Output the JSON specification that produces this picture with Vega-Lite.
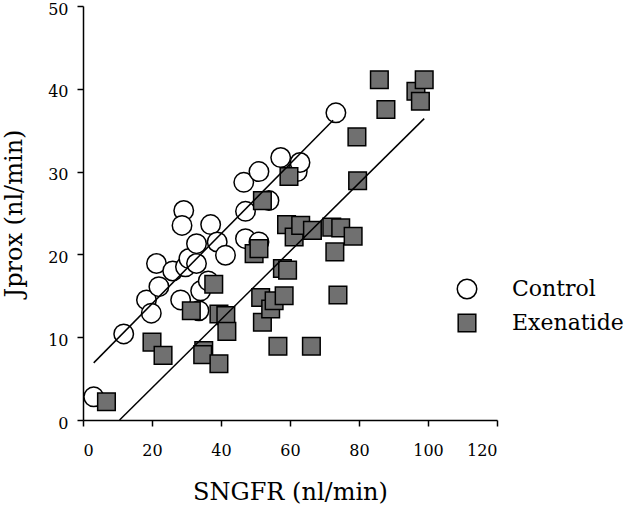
{
  "$schema": "https://vega.github.io/schema/vega-lite/v6.json",
  "autosize": {"type": "none"},
  "width": 414,
  "height": 414,
  "padding": {"left": 83, "top": 6, "right": 130, "bottom": 87},
  "background": "white",
  "config": {
    "view": {"stroke": null},
    "font": "DejaVu Serif",
    "axis": {
      "grid": false,
      "domainColor": "black",
      "domainWidth": 1.5,
      "tickColor": "black",
      "tickWidth": 1.5,
      "tickSize": 6,
      "labelFont": "DejaVu Serif",
      "labelFontSize": 16,
      "labelColor": "black",
      "titleFont": "DejaVu Serif",
      "titleFontSize": 24,
      "titleFontWeight": "normal",
      "titleColor": "black"
    },
    "legend": {
      "labelFont": "DejaVu Serif",
      "labelFontSize": 22,
      "labelColor": "black",
      "title": null
    }
  },
  "datasets": {
    "points": [
      {"SNGFR": 3.1, "Jprox": 2.8, "group": "Control"},
      {"SNGFR": 11.8, "Jprox": 10.4, "group": "Control"},
      {"SNGFR": 18.4, "Jprox": 14.5, "group": "Control"},
      {"SNGFR": 19.8, "Jprox": 12.9, "group": "Control"},
      {"SNGFR": 21.3, "Jprox": 18.9, "group": "Control"},
      {"SNGFR": 22.0, "Jprox": 16.1, "group": "Control"},
      {"SNGFR": 26.0, "Jprox": 18.0, "group": "Control"},
      {"SNGFR": 28.3, "Jprox": 14.5, "group": "Control"},
      {"SNGFR": 29.2, "Jprox": 25.3, "group": "Control"},
      {"SNGFR": 28.7, "Jprox": 23.5, "group": "Control"},
      {"SNGFR": 29.7, "Jprox": 18.5, "group": "Control"},
      {"SNGFR": 30.7, "Jprox": 19.5, "group": "Control"},
      {"SNGFR": 32.9, "Jprox": 18.9, "group": "Control"},
      {"SNGFR": 32.9, "Jprox": 21.3, "group": "Control"},
      {"SNGFR": 33.6, "Jprox": 13.2, "group": "Control"},
      {"SNGFR": 34.1, "Jprox": 15.6, "group": "Control"},
      {"SNGFR": 36.3, "Jprox": 16.8, "group": "Control"},
      {"SNGFR": 37.0, "Jprox": 23.6, "group": "Control"},
      {"SNGFR": 38.9, "Jprox": 21.5, "group": "Control"},
      {"SNGFR": 41.3, "Jprox": 19.9, "group": "Control"},
      {"SNGFR": 46.6, "Jprox": 28.7, "group": "Control"},
      {"SNGFR": 47.1, "Jprox": 25.2, "group": "Control"},
      {"SNGFR": 47.1, "Jprox": 21.9, "group": "Control"},
      {"SNGFR": 51.0, "Jprox": 21.5, "group": "Control"},
      {"SNGFR": 51.0, "Jprox": 30.0, "group": "Control"},
      {"SNGFR": 53.9, "Jprox": 26.5, "group": "Control"},
      {"SNGFR": 57.3, "Jprox": 31.7, "group": "Control"},
      {"SNGFR": 62.1, "Jprox": 30.0, "group": "Control"},
      {"SNGFR": 62.9, "Jprox": 31.1, "group": "Control"},
      {"SNGFR": 73.3, "Jprox": 37.1, "group": "Control"},
      {"SNGFR": 6.8, "Jprox": 2.2, "group": "Exenatide"},
      {"SNGFR": 20.0, "Jprox": 9.4, "group": "Exenatide"},
      {"SNGFR": 23.2, "Jprox": 7.8, "group": "Exenatide"},
      {"SNGFR": 31.4, "Jprox": 13.2, "group": "Exenatide"},
      {"SNGFR": 35.0, "Jprox": 8.4, "group": "Exenatide"},
      {"SNGFR": 34.7, "Jprox": 7.9, "group": "Exenatide"},
      {"SNGFR": 37.9, "Jprox": 16.4, "group": "Exenatide"},
      {"SNGFR": 39.4, "Jprox": 6.8, "group": "Exenatide"},
      {"SNGFR": 39.4, "Jprox": 12.8, "group": "Exenatide"},
      {"SNGFR": 41.4, "Jprox": 12.6, "group": "Exenatide"},
      {"SNGFR": 41.7, "Jprox": 10.7, "group": "Exenatide"},
      {"SNGFR": 49.6, "Jprox": 20.1, "group": "Exenatide"},
      {"SNGFR": 51.0, "Jprox": 20.7, "group": "Exenatide"},
      {"SNGFR": 51.5, "Jprox": 14.8, "group": "Exenatide"},
      {"SNGFR": 52.0, "Jprox": 11.8, "group": "Exenatide"},
      {"SNGFR": 52.0, "Jprox": 26.5, "group": "Exenatide"},
      {"SNGFR": 54.4, "Jprox": 13.4, "group": "Exenatide"},
      {"SNGFR": 55.4, "Jprox": 14.4, "group": "Exenatide"},
      {"SNGFR": 56.5, "Jprox": 8.9, "group": "Exenatide"},
      {"SNGFR": 57.8, "Jprox": 18.3, "group": "Exenatide"},
      {"SNGFR": 58.3, "Jprox": 15.0, "group": "Exenatide"},
      {"SNGFR": 59.3, "Jprox": 18.1, "group": "Exenatide"},
      {"SNGFR": 59.0, "Jprox": 23.6, "group": "Exenatide"},
      {"SNGFR": 59.7, "Jprox": 29.4, "group": "Exenatide"},
      {"SNGFR": 61.2, "Jprox": 22.1, "group": "Exenatide"},
      {"SNGFR": 63.1, "Jprox": 23.5, "group": "Exenatide"},
      {"SNGFR": 66.2, "Jprox": 8.9, "group": "Exenatide"},
      {"SNGFR": 66.5, "Jprox": 22.9, "group": "Exenatide"},
      {"SNGFR": 72.1, "Jprox": 23.3, "group": "Exenatide"},
      {"SNGFR": 73.0, "Jprox": 20.3, "group": "Exenatide"},
      {"SNGFR": 73.9, "Jprox": 15.1, "group": "Exenatide"},
      {"SNGFR": 74.7, "Jprox": 23.2, "group": "Exenatide"},
      {"SNGFR": 78.3, "Jprox": 22.2, "group": "Exenatide"},
      {"SNGFR": 79.4, "Jprox": 34.2, "group": "Exenatide"},
      {"SNGFR": 79.6, "Jprox": 28.9, "group": "Exenatide"},
      {"SNGFR": 85.9, "Jprox": 41.1, "group": "Exenatide"},
      {"SNGFR": 87.8, "Jprox": 37.5, "group": "Exenatide"},
      {"SNGFR": 96.5, "Jprox": 39.7, "group": "Exenatide"},
      {"SNGFR": 97.8, "Jprox": 38.5, "group": "Exenatide"},
      {"SNGFR": 98.9, "Jprox": 41.1, "group": "Exenatide"}
    ],
    "fits": [
      {"x1": 3.1, "y1": 6.9, "x2": 72.5, "y2": 36.2, "group": "Control"},
      {"x1": 10.6, "y1": 0, "x2": 98.9, "y2": 36.4, "group": "Exenatide"}
    ]
  },
  "layer": [
    {
      "data": {"name": "points"},
      "mark": {"type": "point", "filled": true, "stroke": "black", "strokeWidth": 1.5, "opacity": 1},
      "encoding": {
        "x": {
          "field": "SNGFR", "type": "quantitative",
          "scale": {"domain": [0, 120], "nice": false, "zero": false},
          "axis": {"values": [0, 20, 40, 60, 80, 100, 120], "title": "SNGFR (nl/min)", "labelPadding": 16, "titlePadding": 22}
        },
        "y": {
          "field": "Jprox", "type": "quantitative",
          "scale": {"domain": [0, 50], "nice": false, "zero": false},
          "axis": {"values": [0, 10, 20, 30, 40, 50], "title": "Jprox (nl/min)", "labelPadding": 9, "labelOffset": 3, "titlePadding": 21}
        },
        "shape": {
          "field": "group", "type": "nominal",
          "scale": {"domain": ["Control", "Exenatide"], "range": ["circle", "square"]},
          "legend": {"orient": "none", "legendX": 373, "legendY": 272, "labelOffset": 34, "rowPadding": 9, "symbolStrokeColor": "black", "symbolStrokeWidth": 1.5}
        },
        "fill": {
          "field": "group", "type": "nominal",
          "scale": {"domain": ["Control", "Exenatide"], "range": ["white", "#707070"]}
        },
        "size": {
          "field": "group", "type": "nominal",
          "scale": {"domain": ["Control", "Exenatide"], "range": [380, 310]}
        }
      }
    },
    {
      "data": {"name": "fits"},
      "mark": {"type": "rule", "color": "black", "strokeWidth": 1.5},
      "encoding": {
        "x": {"field": "x1", "type": "quantitative"},
        "y": {"field": "y1", "type": "quantitative"},
        "x2": {"field": "x2"},
        "y2": {"field": "y2"}
      }
    }
  ]
}
